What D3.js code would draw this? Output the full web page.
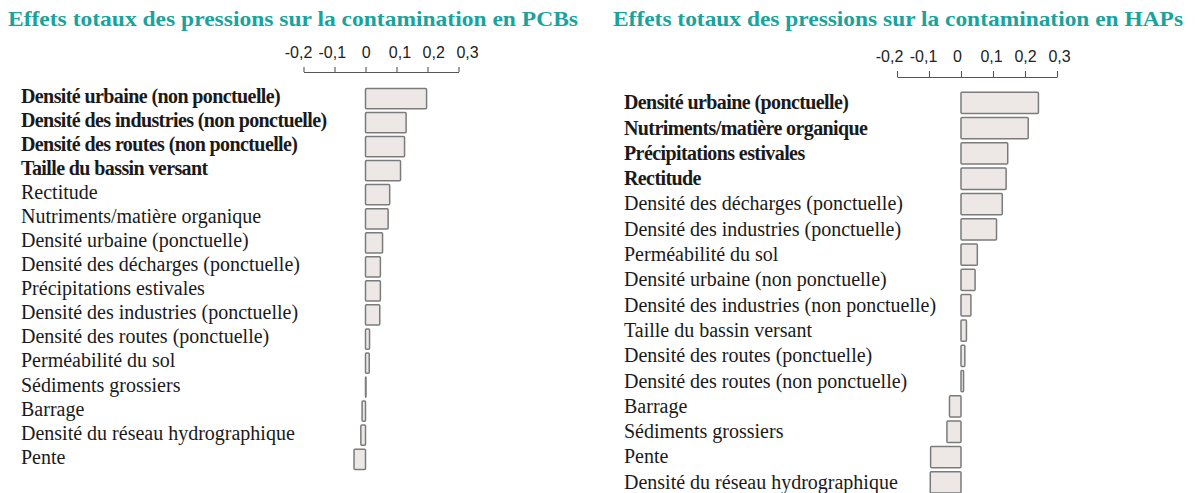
<!DOCTYPE html>
<html>
<head>
<meta charset="utf-8">
<script src="https://cdn.jsdelivr.net/npm/d3@7"></script>
<style>
  html, body { margin: 0; padding: 0; background: #fff; }
</style>
</head>
<body>
<svg id="chart" width="1195" height="493"></svg>
<script>
// ─── Data ────────────────────────────────────────────────────────────────────
const tickValues = [-0.2, -0.1, 0, 0.1, 0.2, 0.3];

const pcbTitle = 'Effets totaux des pressions sur la contamination en PCBs';
const pcbLabels = [
  'Densité urbaine (non ponctuelle)',
  'Densité des industries (non ponctuelle)',
  'Densité des routes (non ponctuelle)',
  'Taille du bassin versant',
  'Rectitude',
  'Nutriments/matière organique',
  'Densité urbaine (ponctuelle)',
  'Densité des décharges (ponctuelle)',
  'Précipitations estivales',
  'Densité des industries (ponctuelle)',
  'Densité des routes (ponctuelle)',
  'Perméabilité du sol',
  'Sédiments grossiers',
  'Barrage',
  'Densité du réseau hydrographique',
  'Pente',
];
const pcbValues = [0.197, 0.131, 0.126, 0.113, 0.078, 0.073, 0.055, 0.048,
                   0.048, 0.046, 0.013, 0.012, 0.001, -0.011, -0.015, -0.037];
const pcbSignificant = [true, true, true, true, false, false, false, false,
                        false, false, false, false, false, false, false, false];

const hapTitle = 'Effets totaux des pressions sur la contamination en HAPs';
const hapLabels = [
  'Densité urbaine (ponctuelle)',
  'Nutriments/matière organique',
  'Précipitations estivales',
  'Rectitude',
  'Densité des décharges (ponctuelle)',
  'Densité des industries (ponctuelle)',
  'Perméabilité du sol',
  'Densité urbaine (non ponctuelle)',
  'Densité des industries (non ponctuelle)',
  'Taille du bassin versant',
  'Densité des routes (ponctuelle)',
  'Densité des routes (non ponctuelle)',
  'Barrage',
  'Sédiments grossiers',
  'Pente',
  'Densité du réseau hydrographique',
];
const hapValues = [0.242, 0.21, 0.146, 0.141, 0.129, 0.111, 0.051, 0.044,
                   0.031, 0.017, 0.012, 0.008, -0.036, -0.044, -0.095, -0.096];
const hapSignificant = [true, true, true, true, false, false, false, false,
                        false, false, false, false, false, false, false, false];

// ─── Layout ──────────────────────────────────────────────────────────────────
const TEAL = '#1aa39d';
const BAR_FILL = '#ede8e6';
const BAR_STROKE = '#7b7b7b';
const SERIF = '"Liberation Serif", "Times New Roman", serif';
const SANS = '"Liberation Sans", Arial, sans-serif';

// labelRange: the tick labels in the source sit a little wider than the ticks
const panels = [
  {
    title: pcbTitle, labels: pcbLabels, values: pcbValues, bold: pcbSignificant,
    titleX: 8, labelX: 21,
    xRange: [303.5, 458.5], labelRange: [298, 467],
    axisY: 72, tickSize: 5, tickPad: 9,
    barTop: 86.5, step: 24.05, labelNudge: -2,
  },
  {
    title: hapTitle, labels: hapLabels, values: hapValues, bold: hapSignificant,
    titleX: 613, labelX: 624,
    xRange: [897, 1057], labelRange: [889, 1059],
    axisY: 77, tickSize: 6, tickPad: 9,
    barTop: 90.2, step: 25.3, labelNudge: 0,
  },
];

const fmt = d3.formatLocale({
  decimal: ',', thousands: ' ', grouping: [3], currency: ['', '€'], minus: '-',
}).format('.1~f');

const svg = d3.select('#chart');

panels.forEach(p => {
  const g = svg.append('g');

  // ── Title ──────────────────────────────────────────────────────────────────
  g.append('text')
    .attr('x', p.titleX)
    .attr('y', 26)
    .attr('textLength', 570)
    .attr('lengthAdjust', 'spacingAndGlyphs')
    .style('font-family', SERIF)
    .style('font-weight', 'bold')
    .style('font-size', '21px')
    .style('fill', TEAL)
    .text(p.title);

  // ── Scales ─────────────────────────────────────────────────────────────────
  const x = d3.scaleLinear().domain([-0.2, 0.3]).range(p.xRange);
  const xLabel = d3.scaleLinear().domain([-0.2, 0.3]).range(p.labelRange);
  const n = p.labels.length;
  const y = d3.scaleBand()
    .domain(p.labels)
    .range([p.barTop, p.barTop + n * p.step])
    .paddingInner(0.16)
    .paddingOuter(0.08);

  // ── Axis ───────────────────────────────────────────────────────────────────
  const axis = g.append('g')
    .attr('transform', `translate(0,${p.axisY})`)
    .call(d3.axisTop(x)
      .tickValues(tickValues)
      .tickSize(p.tickSize)
      .tickSizeOuter(0)
      .tickPadding(p.tickPad)
      .tickFormat(fmt));
  axis.selectAll('path, line').attr('stroke', '#555').attr('stroke-width', 1.1);
  axis.selectAll('.tick text')
    .attr('x', d => xLabel(d) - x(d))
    .style('font-family', SANS)
    .style('font-size', '16px')
    .attr('fill', '#222');

  // ── Bars ───────────────────────────────────────────────────────────────────
  const rows = p.labels.map((label, i) => ({ label, value: p.values[i], bold: p.bold[i] }));

  g.append('g')
    .selectAll('rect')
    .data(rows)
    .join('rect')
    .attr('x', d => x(Math.min(0, d.value)))
    .attr('y', d => y(d.label))
    .attr('width', d => Math.max(0.5, Math.abs(x(d.value) - x(0))))
    .attr('height', y.bandwidth())
    .attr('fill', BAR_FILL)
    .attr('stroke', BAR_STROKE)
    .attr('stroke-width', 1.5)
    .attr('rx', 1);

  // ── Labels ─────────────────────────────────────────────────────────────────
  g.append('g')
    .selectAll('text')
    .data(rows)
    .join('text')
    .attr('x', p.labelX)
    .attr('y', d => y(d.label) + y.bandwidth() / 2 + p.labelNudge)
    .attr('dy', '0.32em')
    .style('font-family', SERIF)
    .style('font-size', '20px')
    .style('font-weight', d => d.bold ? 'bold' : 'normal')
    .style('letter-spacing', d => d.bold ? '-0.6px' : '0px')
    .style('fill', '#1a1a1a')
    .text(d => d.label);
});
</script>
</body>
</html>
